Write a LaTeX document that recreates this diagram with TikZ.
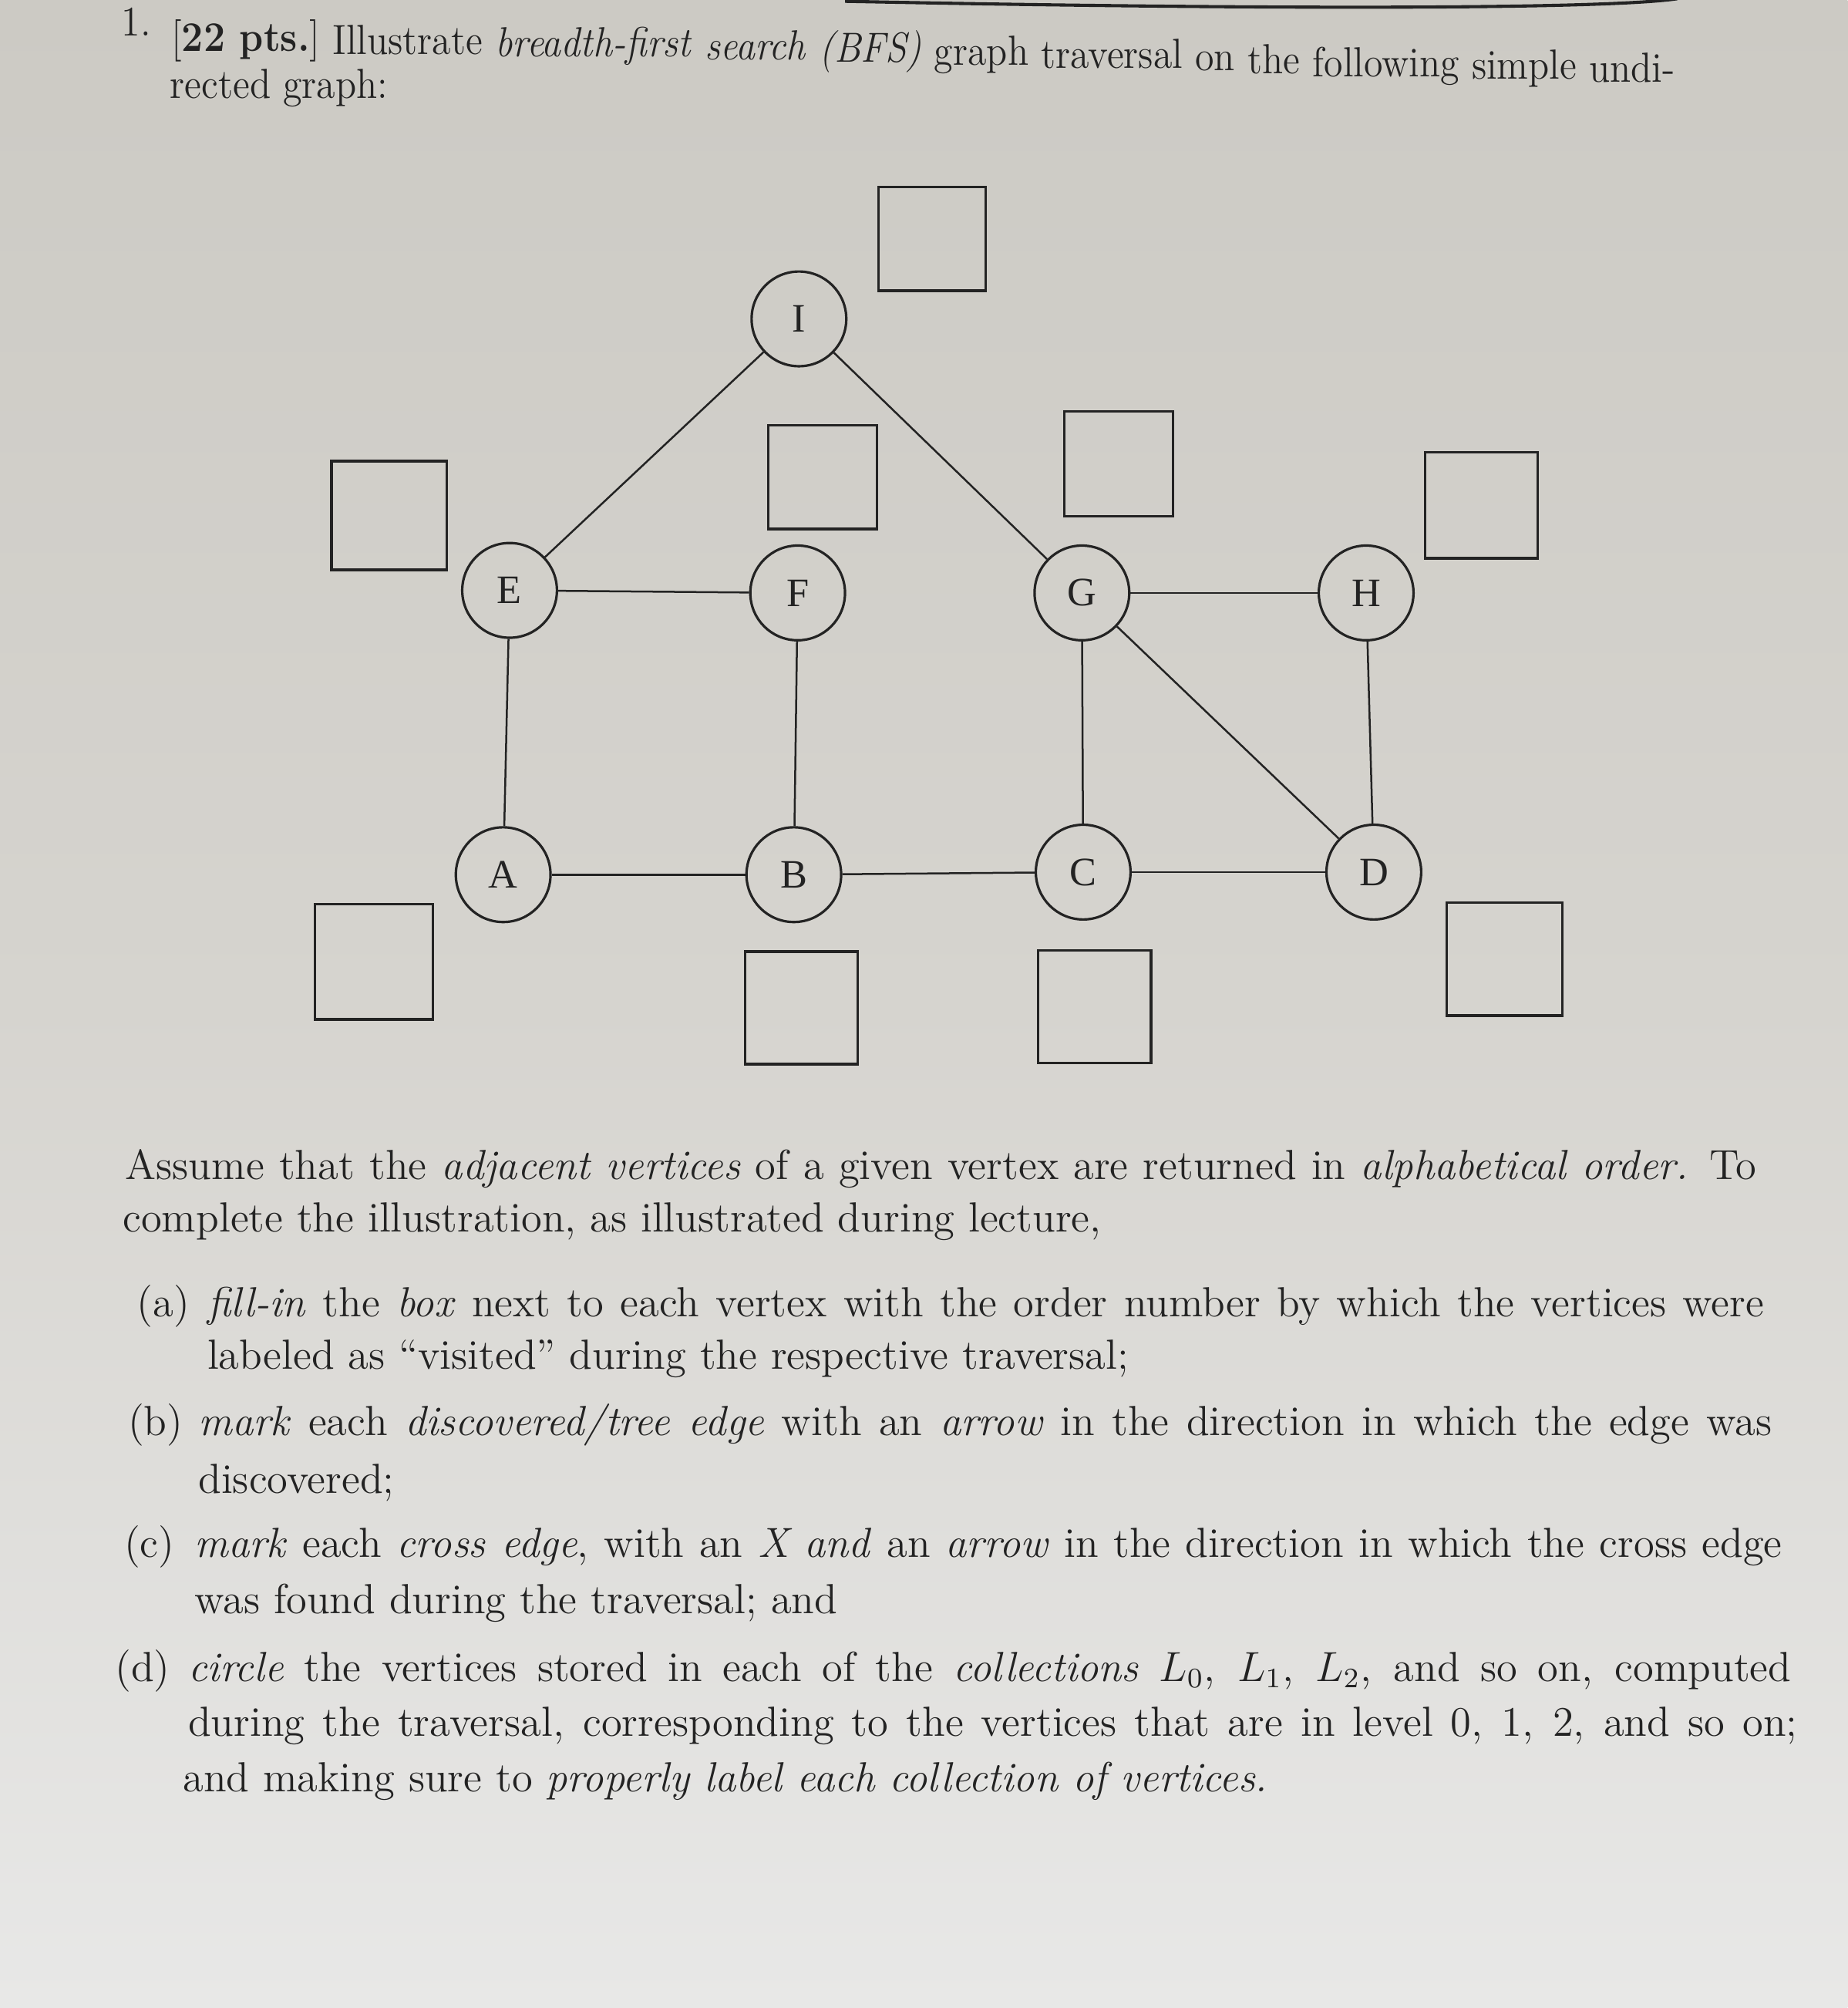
\documentclass[tikz,border=0pt]{standalone}
\usepackage{fontspec}
\newfontfamily\lserif{Liberation Serif}
\definecolor{ink}{RGB}{35,35,35}
\definecolor{papertop}{RGB}{204,202,196}
\definecolor{papermid}{RGB}{214,212,207}
\definecolor{paperbot}{RGB}{232,232,231}
\newlength\hdrw
\begin{document}
\settowidth\hdrw{\fontsize{12}{14.5}\selectfont [\textbf{22 pts.}] Illustrate \emph{breadth-first search (BFS)} graph traversal on the following simple undi-}%
\pgfmathsetmacro\hs{429.6/\hdrw}%
\pgfmathsetmacro\hsp{3.92*\hs}%
\begin{tikzpicture}[x=0.365pt,y=-0.365pt,
  vtx/.style={circle,draw=ink,line width=0.7pt,minimum size=27pt,inner sep=0pt,
    font=\lserif\fontsize{11.5}{12}\selectfont,text=ink},
  numbox/.style={rectangle,draw=ink,line width=0.7pt,inner sep=0pt,outer sep=0pt},
  edge/.style={draw=ink,line width=0.55pt},
  txt/.style={anchor=base west,inner sep=0pt,outer sep=0pt,text=ink,
    font=\fontsize{12}{14.5}\selectfont},
  nextword/.style={xshift=\hsp pt,yshift=-0.8pt}]
% paper
\fill[top color=papertop,bottom color=paperbot,middle color=papermid] (0,0) rectangle (1443,1568);
\useasboundingbox (0,0) rectangle (1443,1568);
% sheet edge at top
\coordinate (t1) at (660,1);
\coordinate (t2) at (1310,-1);
\draw[ink,line width=0.9pt] (t1) .. controls (950,7) and (1250,8) .. (t2);

% header (page slightly curved: baseline descends to the right)
\node[txt] (w1) at (95,40) {\makebox[14.2pt][l]{\raisebox{4.4pt}{\scalebox{\hs}[1]{1.}}}\scalebox{\hs}[1]{[\textbf{22 pts.}]}};
\node[txt] (w2) at ([nextword]w1.base east) {\scalebox{\hs}[1]{Illustrate}};
\node[txt] (w3) at ([nextword]w2.base east) {\scalebox{\hs}[1]{\emph{breadth-first}}};
\node[txt] (w4) at ([nextword]w3.base east) {\scalebox{\hs}[1]{\emph{search}}};
\node[txt] (w5) at ([nextword]w4.base east) {\scalebox{\hs}[1]{\emph{(BFS)}}};
\node[txt] (w6) at ([nextword]w5.base east) {\scalebox{\hs}[1]{graph}};
\node[txt] (w7) at ([nextword]w6.base east) {\scalebox{\hs}[1]{traversal}};
\node[txt] (w8) at ([nextword]w7.base east) {\scalebox{\hs}[1]{on}};
\node[txt] (w9) at ([nextword]w8.base east) {\scalebox{\hs}[1]{the}};
\node[txt] (w10) at ([nextword]w9.base east) {\scalebox{\hs}[1]{following}};
\node[txt] (w11) at ([nextword]w10.base east) {\scalebox{\hs}[1]{simple}};
\node[txt] (w12) at ([nextword]w11.base east) {\scalebox{\hs}[1]{undi-}};
\node[txt] (h2) at (133,77) {\scalebox{\hs}[1]{rected graph:}};

% vertices
\node[vtx] (I) at (624,249) {I};
\node[vtx] (E) at (398,461) {E};
\node[vtx] (F) at (623,463) {F};
\node[vtx] (G) at (845,463) {G};
\node[vtx] (H) at (1067,463) {H};
\node[vtx] (A) at (393,683) {A};
\node[vtx] (B) at (620,683) {B};
\node[vtx] (C) at (846,681) {C};
\node[vtx] (D) at (1073,681) {D};

% edges
\draw[edge] (I) -- (E);
\draw[edge] (I) -- (G);
\draw[edge] (E) -- (F);
\draw[edge] (E) -- (A);
\draw[edge] (F) -- (B);
\draw[edge] (G) -- (H);
\draw[edge] (G) -- (C);
\draw[edge] (G) -- (D);
\draw[edge] (H) -- (D);
\draw[edge] (A) -- (B);
\draw[edge] (B) -- (C);
\draw[edge] (C) -- (D);

% boxes
\node[numbox,minimum width=30.7pt,minimum height=29.6pt] (boxI) at (728,186.5) {};
\node[numbox,minimum width=32.9pt,minimum height=31.0pt] (boxE) at (304,402.5) {};
\node[numbox,minimum width=31.0pt,minimum height=29.6pt] (boxF) at (642.5,372.5) {};
\node[numbox,minimum width=31.0pt,minimum height=29.9pt] (boxG) at (873.5,362) {};
\node[numbox,minimum width=32.1pt,minimum height=30.3pt] (boxH) at (1157,394.5) {};
\node[numbox,minimum width=33.6pt,minimum height=32.9pt] (boxA) at (292,751) {};
\node[numbox,minimum width=32.1pt,minimum height=32.1pt] (boxB) at (626,787) {};
\node[numbox,minimum width=32.1pt,minimum height=32.1pt] (boxC) at (855,786) {};
\node[numbox,minimum width=32.9pt,minimum height=32.1pt] (boxD) at (1175,749) {};

% body text
\node[txt] (p1) at (98,921) {\makebox[465.0pt][s]{Assume that the \emph{adjacent vertices} of a given vertex are returned in \emph{alphabetical order.} To}};
\node[txt] (p2) at (96,962) {complete the illustration, as illustrated during lecture,};

\node[txt] (la) at (107,1028) {(a)};
\node[txt] (a1) at (162,1028) {\makebox[443.8pt][s]{\emph{fill-in} the \emph{box} next to each vertex with the order number by which the vertices were}};
\node[txt] (a2) at (162,1069) {labeled as ``visited'' during the respective traversal;};

\node[txt] (lb) at (100,1121) {(b)};
\node[txt] (b1) at (155,1121) {\makebox[448.6pt][s]{\emph{mark} each \emph{discovered/tree edge} with an \emph{arrow} in the direction in which the edge was}};
\node[txt] (b2) at (155,1166) {discovered;};

\node[txt] (lc) at (97,1216) {(c)};
\node[txt] (c1) at (152,1216) {\makebox[452.6pt][s]{\emph{mark} each \emph{cross edge}, with an \emph{X and} an \emph{arrow} in the direction in which the cross edge}};
\node[txt] (c2) at (152,1260) {was found during the traversal; and};

\node[txt] (ld) at (90,1313) {(d)};
\node[txt] (d1) at (147,1313) {\makebox[457.0pt][s]{\emph{circle} the vertices stored in each of the \emph{collections} $L_0$, $L_1$, $L_2$, and so on, computed}};
\node[txt] (d2) at (147,1356) {\makebox[458.8pt][s]{during the traversal, corresponding to the vertices that are in level 0, 1, 2, and so on;}};
\node[txt] (d3) at (143,1399) {and making sure to \emph{properly label each collection of vertices.}};
\end{tikzpicture}
\end{document}
